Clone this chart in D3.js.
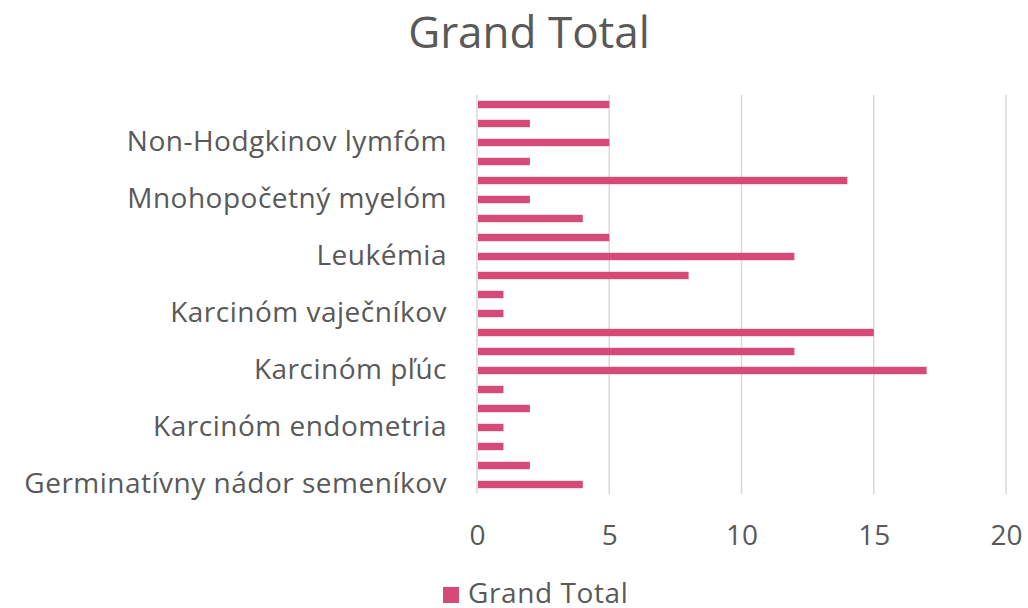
<!DOCTYPE html>
<html>
<head>
<meta charset="utf-8">
<script src="https://cdn.jsdelivr.net/npm/d3@7"></script>
<style>
  body { margin: 0; background: #fff; }
  text { font-family: "Open Sans", "Liberation Sans", sans-serif; fill: #595959; }
</style>
</head>
<body>
<svg id="chart" width="1028" height="608"></svg>
<script>
// categories, bottom to top (only every third label is shown, like Excel does)
var categories = [
  "Germinatívny nádor semeníkov", "Hodgkinov lymfóm", "Karcinóm cervixu",
  "Karcinóm endometria", "Karcinóm obličky", "Karcinóm pankreasu",
  "Karcinóm pľúc", "Karcinóm prostaty", "Karcinóm prsníka",
  "Karcinóm vaječníkov", "Karcinóm žalúdka", "Kolorektálny karcinóm",
  "Leukémia", "Melanóm", "Mezotelióm",
  "Mnohopočetný myelóm", "Nádor mozgu", "Neuroendokrinný nádor",
  "Non-Hodgkinov lymfóm", "Sarkóm", "Tymóm"
];
var values = [4, 2, 1, 1, 2, 1, 17, 12, 15, 1, 1, 8, 12, 5, 4, 2, 14, 2, 5, 2, 5];
var xTicks = [0, 5, 10, 15, 20];
var seriesName = "Grand Total";

var svg = d3.select("#chart");
var plotLeft = 477, plotRight = 1006, plotTop = 95, plotBottom = 494;

// scales
var x = d3.scaleLinear().domain([0, 20]).range([plotLeft, plotRight]);
var y = d3.scaleBand()
  .domain(categories)
  .range([plotBottom, plotTop])
  .paddingInner(0.61)
  .paddingOuter(0.305);

// title
svg.append("text")
  .attr("x", 529).attr("y", 48)
  .attr("text-anchor", "middle")
  .style("font-size", "44px")
  .text("Grand Total");

// vertical gridlines
svg.append("g").selectAll("line")
  .data(xTicks)
  .enter()
  .append("line")
  .attr("x1", function(d) { return x(d); })
  .attr("x2", function(d) { return x(d); })
  .attr("y1", plotTop)
  .attr("y2", plotBottom)
  .attr("stroke", "#d9d9d9")
  .attr("stroke-width", 1.5);

// bars
svg.append("g").selectAll("rect")
  .data(values)
  .enter()
  .append("rect")
  .attr("x", x(0) + 1)
  .attr("y", function(d, i) { return y(categories[i]); })
  .attr("width", function(d) { return x(d) - x(0) - 1; })
  .attr("height", y.bandwidth())
  .attr("fill", "#d64a77");

// x axis
var xAxis = d3.axisBottom(x).tickValues(xTicks).tickSize(0).tickPadding(0);
var gx = svg.append("g")
  .attr("transform", "translate(0," + plotBottom + ")")
  .call(xAxis);
gx.select(".domain").remove();
gx.selectAll("text")
  .attr("y", 51)
  .attr("dy", 0)
  .style("font-size", "28px")
  .attr("fill", "#595959");

// y axis
var yAxis = d3.axisLeft(y)
  .tickValues(categories.filter(function(d, i) { return i % 3 === 0; }))
  .tickSize(0).tickPadding(30);
var gy = svg.append("g")
  .attr("transform", "translate(" + plotLeft + ",0)")
  .call(yAxis);
gy.select(".domain").remove();
gy.selectAll("text")
  .style("font-size", "28px")
  .style("letter-spacing", "0.5px")
  .attr("fill", "#595959");

// legend
var legend = svg.append("g").attr("transform", "translate(443,587)");
legend.append("rect")
  .attr("width", 16).attr("height", 16)
  .attr("fill", "#d64a77");
legend.append("text")
  .attr("x", 25).attr("y", 16)
  .style("font-size", "28px")
  .style("letter-spacing", "0.6px")
  .text(seriesName);
</script>
</body>
</html>
